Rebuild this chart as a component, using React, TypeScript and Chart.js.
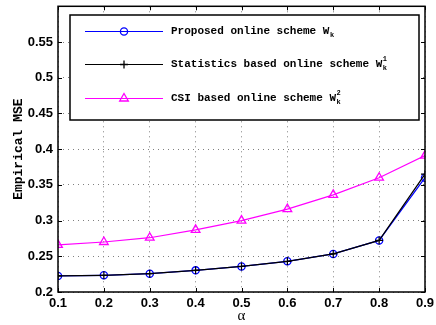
import React, { useEffect, useRef } from 'react';
import { Chart, registerables } from 'chart.js';

Chart.register(...registerables);

const alphas = [0.1, 0.2, 0.3, 0.4, 0.5, 0.6, 0.7, 0.8, 0.9];
const proposed = [0.2225, 0.2234, 0.2257, 0.2303, 0.2358, 0.2430, 0.2533, 0.2722, 0.3600];
const statistics = [0.2225, 0.2234, 0.2257, 0.2303, 0.2358, 0.2430, 0.2533, 0.2722, 0.3650];
const csiBased = [0.2660, 0.2700, 0.2760, 0.2870, 0.3000, 0.3160, 0.3360, 0.3600, 0.3910];

const legendBase = ['Proposed online scheme W', 'Statistics based online scheme W', 'CSI based online scheme W'];
const legendSub = ['k', 'k', 'k'];
const legendSup = ['', '1', '2'];
const legendColors = ['#0000ff', '#000000', '#ff00ff'];
const legendMarkers = ['circle', 'cross', 'triangle'];

const yMin = 0.2;
const yMax = 0.6;
const yStep = 0.05;

function drawMarker(ctx: CanvasRenderingContext2D, kind: string, x: number, y: number, color: string) {
  ctx.save();
  ctx.strokeStyle = color;
  ctx.lineWidth = 1.3;
  ctx.beginPath();
  if (kind === 'circle') {
    ctx.arc(x, y, 3.6, 0, Math.PI * 2);
  } else if (kind === 'cross') {
    ctx.moveTo(x - 4, y);
    ctx.lineTo(x + 4, y);
    ctx.moveTo(x, y - 4);
    ctx.lineTo(x, y + 4);
  } else {
    const r = 5;
    ctx.moveTo(x, y - r);
    ctx.lineTo(x + r * 0.866, y + r * 0.5);
    ctx.lineTo(x - r * 0.866, y + r * 0.5);
    ctx.closePath();
  }
  ctx.stroke();
  ctx.restore();
}

const framePlugin = {
  id: 'frame',
  afterDraw(chart: any) {
    const ctx: CanvasRenderingContext2D = chart.ctx;
    const { left, right, top, bottom } = chart.chartArea;
    ctx.save();
    ctx.strokeStyle = '#000';
    ctx.lineWidth = 1;
    const xs = chart.scales.x;
    const ys = chart.scales.y;
    ctx.beginPath();
    alphas.forEach((a) => {
      const px = Math.round(xs.getPixelForValue(a)) + 0.5;
      ctx.moveTo(px, bottom);
      ctx.lineTo(px, bottom - 4);
      ctx.moveTo(px, top);
      ctx.lineTo(px, top + 4);
    });
    for (let v = yMin; v <= yMax + 1e-9; v += yStep) {
      const py = Math.round(ys.getPixelForValue(v)) + 0.5;
      ctx.moveTo(left, py);
      ctx.lineTo(left + 4, py);
      ctx.moveTo(right, py);
      ctx.lineTo(right - 4, py);
    }
    ctx.stroke();
    ctx.lineWidth = 1.5;
    ctx.strokeRect(left, top, right - left, bottom - top);

    const bx = 70, by = 15, bw = 349, bh = 105;
    ctx.fillStyle = '#fff';
    ctx.fillRect(bx, by, bw, bh);
    ctx.lineWidth = 1.5;
    ctx.strokeStyle = '#000';
    ctx.strokeRect(bx, by, bw, bh);
    const rows = [31, 64, 98];
    rows.forEach((ry, i) => {
      ctx.strokeStyle = legendColors[i];
      ctx.lineWidth = 1.2;
      ctx.beginPath();
      ctx.moveTo(85, ry + 0.5);
      ctx.lineTo(163, ry + 0.5);
      ctx.stroke();
      drawMarker(ctx, legendMarkers[i], 124, ry + 0.5, legendColors[i]);
      ctx.fillStyle = '#000';
      ctx.textBaseline = 'middle';
      ctx.textAlign = 'left';
      ctx.font = 'bold 11px "Liberation Mono", monospace';
      ctx.fillText(legendBase[i], 171, ry);
      const w = ctx.measureText(legendBase[i]).width;
      ctx.font = 'bold 7px "Liberation Mono", monospace';
      ctx.fillText(legendSub[i], 171 + w + 0.5, ry + 4);
      if (legendSup[i]) ctx.fillText(legendSup[i], 171 + w + 0.5, ry - 5);
    });
    ctx.restore();
  },
};

const bgPlugin = {
  id: 'bg',
  beforeDraw(chart: any) {
    const ctx = chart.ctx;
    ctx.save();
    ctx.fillStyle = '#fff';
    ctx.fillRect(0, 0, chart.width, chart.height);
    ctx.restore();
  },
};

export default function App() {
  const ref = useRef<HTMLCanvasElement | null>(null);
  useEffect(() => {
    if (!ref.current) return;
    const mk = (arr: number[]) => alphas.map((a, i) => ({ x: a, y: arr[i] }));
    const chart = new Chart(ref.current, {
      type: 'line',
      data: {
        datasets: [
          {
            label: 'Proposed online scheme W_k',
            data: mk(proposed),
            borderColor: '#0000ff',
            backgroundColor: 'transparent',
            borderWidth: 1.2,
            pointStyle: 'circle',
            pointRadius: 3.6,
            pointBorderWidth: 1.3,
            pointBorderColor: '#0000ff',
            pointBackgroundColor: 'transparent',
            order: 1,
          },
          {
            label: 'Statistics based online scheme W_k^1',
            data: mk(statistics),
            borderColor: '#000000',
            backgroundColor: 'transparent',
            borderWidth: 1.2,
            pointStyle: 'cross',
            pointRadius: 4,
            pointBorderWidth: 1.2,
            pointBorderColor: '#000000',
            order: 0,
          },
          {
            label: 'CSI based online scheme W_k^2',
            data: mk(csiBased),
            borderColor: '#ff00ff',
            backgroundColor: 'transparent',
            borderWidth: 1.2,
            pointStyle: 'triangle',
            pointRadius: 5,
            pointBorderWidth: 1.3,
            pointBorderColor: '#ff00ff',
            pointBackgroundColor: 'transparent',
            order: 2,
          },
        ],
      },
      options: {
        responsive: false,
        animation: false,
        layout: { padding: { top: 3, right: 11, left: 0, bottom: 0 } },
        plugins: { legend: { display: false }, tooltip: { enabled: false } },
        scales: {
          x: {
            type: 'linear',
            min: 0.1,
            max: 0.9,
            afterBuildTicks: (s: any) => {
              s.ticks = alphas.map((v) => ({ value: v }));
            },
            afterFit: (s: any) => {
              s.height = 33;
              s.paddingLeft = 0;
              s.paddingRight = 0;
            },
            ticks: {
              padding: 4,
              color: '#000',
              font: { family: '"Liberation Sans", Arial, sans-serif', size: 13, weight: 'bold' },
              callback: (v: any) => Number(v).toFixed(1),
              maxRotation: 0,
            },
            grid: { color: '#808080', lineWidth: 1, drawTicks: false },
            border: { display: false, dash: [1, 4] },
            title: {
              display: true,
              text: 'α',
              color: '#000',
              padding: { top: 0, bottom: 0 },
              font: { family: '"Liberation Serif", serif', size: 15, weight: 'normal' },
            },
          },
          y: {
            type: 'linear',
            min: yMin,
            max: yMax,
            afterBuildTicks: (s: any) => {
              const t: any[] = [];
              for (let v = yMin; v <= yMax + 1e-9; v += yStep) t.push({ value: Number(v.toFixed(2)) });
              s.ticks = t;
            },
            afterFit: (s: any) => {
              s.width = 58;
              s.paddingTop = 0;
              s.paddingBottom = 0;
            },
            ticks: {
              padding: 5,
              color: '#000',
              font: { family: '"Liberation Sans", Arial, sans-serif', size: 13, weight: 'bold' },
              callback: (v: any) => (Math.abs(Number(v) - 0.6) < 1e-6 ? null : String(Number(Number(v).toFixed(2)))),
            },
            grid: { color: '#808080', lineWidth: 1, drawTicks: false },
            border: { display: false, dash: [1, 4] },
            title: {
              display: true,
              text: 'Empirical MSE',
              color: '#000',
              padding: { top: 11, bottom: 0 },
              font: { family: '"Liberation Mono", monospace', size: 13, weight: 'bold' },
            },
          },
        },
      },
      plugins: [bgPlugin, framePlugin],
    } as any);
    return () => chart.destroy();
  }, []);
  return (
    <div style={{ position: 'fixed', left: 0, top: 0, width: 436, height: 325, background: '#fff' }}>
      <canvas ref={ref} width={436} height={325} style={{ display: 'block' }} />
    </div>
  );
}
